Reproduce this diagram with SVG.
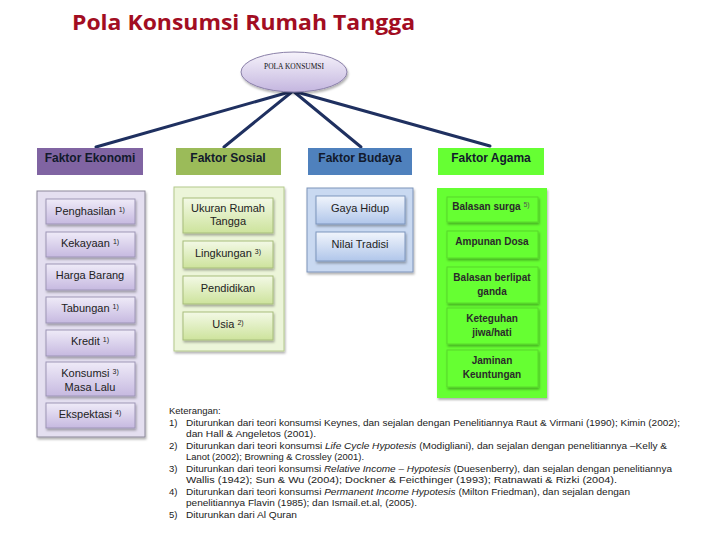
<svg xmlns="http://www.w3.org/2000/svg" width="720" height="540" viewBox="0 0 720 540">
<defs>
<linearGradient id="gEll" x1="0" y1="0" x2="0" y2="1"><stop offset="0" stop-color="#f6f3fb"/><stop offset="1" stop-color="#c4b6df"/></linearGradient>
<linearGradient id="gEko" x1="0" y1="0" x2="0" y2="1"><stop offset="0" stop-color="#efebf8"/><stop offset="1" stop-color="#c6b9e0"/></linearGradient>
<linearGradient id="gSos" x1="0" y1="0" x2="0" y2="1"><stop offset="0" stop-color="#f3f9e6"/><stop offset="1" stop-color="#cde39c"/></linearGradient>
<linearGradient id="gBud" x1="0" y1="0" x2="0" y2="1"><stop offset="0" stop-color="#f1f5fc"/><stop offset="1" stop-color="#b0c6ea"/></linearGradient>
<filter id="sh" x="-10%" y="-10%" width="130%" height="140%"><feDropShadow dx="1" dy="2" stdDeviation="1" flood-color="#000" flood-opacity="0.3"/></filter>
</defs>
<style>
.t{font-family:"Liberation Sans",Arial,sans-serif;fill:#1a1a1a;}
.fk{font-size:12px;font-weight:bold;text-anchor:middle;fill:#121a2c;}
.in{font-size:11px;text-anchor:middle;fill:#222;}
.ag{font-size:10px;font-weight:bold;text-anchor:middle;fill:#2a2a2a;}
.sup{font-size:7px;}
.ft{font-size:9.5px;fill:#222;}
.ekoC{fill:#e4dff0;stroke:#8b8799;stroke-width:1;}
.ekoB{fill:url(#gEko);stroke:#9d95b6;stroke-width:1;}
.sosC{fill:#ecf5d9;stroke:#b4c98c;stroke-width:1;}
.sosB{fill:url(#gSos);stroke:#a7bd7b;stroke-width:1;}
.budC{fill:#c9d9f1;stroke:#7c93ba;stroke-width:1;}
.budB{fill:url(#gBud);stroke:#7d95bd;stroke-width:1;}
.agC{fill:#66ff33;}
.agB{fill:#66ff33;stroke:#58d82c;stroke-width:1;}
.con{stroke:#1f3060;stroke-width:3;fill:none;stroke-linecap:round;}
</style>
<rect width="720" height="540" fill="#ffffff"/>
<text x="72" y="30" font-family="'Open Sans','Liberation Sans',sans-serif" font-size="22" font-weight="bold" fill="#a20d22" textLength="343" lengthAdjust="spacingAndGlyphs">Pola Konsumsi Rumah Tangga</text>

<g id="connectors">
<line class="con" x1="293" y1="91" x2="96" y2="147"/>
<line class="con" x1="293" y1="91" x2="224" y2="147"/>
<line class="con" x1="293" y1="91" x2="361" y2="147"/>
<line class="con" x1="293" y1="91" x2="490" y2="146"/>
</g>

<g id="pola-konsumsi">
<ellipse cx="294" cy="72" rx="53" ry="20" fill="url(#gEll)" stroke="#8a80a8" stroke-width="1" filter="url(#sh)"/>
<text x="294" y="69" font-family="'Liberation Serif',serif" font-size="7.5" text-anchor="middle" fill="#111" textLength="60" lengthAdjust="spacingAndGlyphs">POLA KONSUMSI</text>
</g>

<g id="faktor-ekonomi">
<rect x="37" y="148" width="106" height="27" fill="#8064a2"/>
<text class="t fk" x="90" y="162">Faktor Ekonomi</text>
</g>
<g id="faktor-sosial">
<rect x="176" y="148" width="105" height="27" fill="#9bbb59"/>
<text class="t fk" x="228" y="162">Faktor Sosial</text>
</g>
<g id="faktor-budaya">
<rect x="308" y="148" width="104" height="27" fill="#4f81bd"/>
<text class="t fk" x="360" y="162">Faktor Budaya</text>
</g>
<g id="faktor-agama">
<rect x="438" y="148" width="106" height="27" fill="#66ff33"/>
<text class="t fk" x="491" y="162">Faktor Agama</text>
</g>

<g id="ekonomi-items">
<rect class="ekoC" x="37" y="191" width="108" height="246" filter="url(#sh)"/>
<rect class="ekoB" x="46" y="199" width="89" height="25" filter="url(#sh)"/>
<text class="t in" x="90" y="215">Penghasilan <tspan class="sup" dy="-3">1)</tspan></text>
<rect class="ekoB" x="46" y="232" width="89" height="25" filter="url(#sh)"/>
<text class="t in" x="90" y="247">Kekayaan <tspan class="sup" dy="-3">1)</tspan></text>
<rect class="ekoB" x="46" y="264" width="89" height="26" filter="url(#sh)"/>
<text class="t in" x="90" y="279">Harga Barang</text>
<rect class="ekoB" x="46" y="297" width="89" height="26" filter="url(#sh)"/>
<text class="t in" x="90" y="312">Tabungan <tspan class="sup" dy="-3">1)</tspan></text>
<rect class="ekoB" x="46" y="330" width="89" height="26" filter="url(#sh)"/>
<text class="t in" x="90" y="345">Kredit <tspan class="sup" dy="-3">1)</tspan></text>
<rect class="ekoB" x="46" y="362" width="89" height="34" filter="url(#sh)"/>
<text class="t in" x="90" y="377">Konsumsi <tspan class="sup" dy="-3">3)</tspan></text>
<text class="t in" x="90" y="391">Masa Lalu</text>
<rect class="ekoB" x="46" y="403" width="89" height="25" filter="url(#sh)"/>
<text class="t in" x="90" y="418">Ekspektasi <tspan class="sup" dy="-3">4)</tspan></text>
</g>

<g id="sosial-items">
<rect class="sosC" x="174" y="187" width="110" height="164" filter="url(#sh)"/>
<rect class="sosB" x="183" y="198" width="90" height="35" filter="url(#sh)"/>
<text class="t in" x="228" y="212">Ukuran Rumah</text>
<text class="t in" x="228" y="225">Tangga</text>
<rect class="sosB" x="183" y="241" width="90" height="27" filter="url(#sh)"/>
<text class="t in" x="228" y="257">Lingkungan <tspan class="sup" dy="-3">3)</tspan></text>
<rect class="sosB" x="183" y="276" width="90" height="28" filter="url(#sh)"/>
<text class="t in" x="228" y="292">Pendidikan</text>
<rect class="sosB" x="183" y="312" width="90" height="28" filter="url(#sh)"/>
<text class="t in" x="228" y="328">Usia <tspan class="sup" dy="-3">2)</tspan></text>
</g>

<g id="budaya-items">
<rect class="budC" x="307" y="188" width="106" height="84" filter="url(#sh)"/>
<rect class="budB" x="316" y="196" width="89" height="28" filter="url(#sh)"/>
<text class="t in" x="360" y="212">Gaya Hidup</text>
<rect class="budB" x="316" y="232" width="89" height="29" filter="url(#sh)"/>
<text class="t in" x="360" y="248">Nilai Tradisi</text>
</g>

<g id="agama-items">
<rect class="agC" x="437" y="188" width="110" height="210" filter="url(#sh)"/>
<rect class="agB" x="447" y="197" width="91" height="25" filter="url(#sh)"/>
<text class="t ag" x="491" y="210">Balasan surga <tspan class="sup" font-weight="normal" fill="#555" dy="-3">5)</tspan></text>
<rect class="agB" x="447" y="231" width="91" height="27" filter="url(#sh)"/>
<text class="t ag" x="492" y="245">Ampunan Dosa</text>
<rect class="agB" x="447" y="267" width="91" height="36" filter="url(#sh)"/>
<text class="t ag" x="492" y="281">Balasan berlipat</text>
<text class="t ag" x="492" y="295">ganda</text>
<rect class="agB" x="447" y="308" width="91" height="36" filter="url(#sh)"/>
<text class="t ag" x="492" y="322">Keteguhan</text>
<text class="t ag" x="492" y="336">jiwa/hati</text>
<rect class="agB" x="447" y="350" width="91" height="37" filter="url(#sh)"/>
<text class="t ag" x="492" y="364">Jaminan</text>
<text class="t ag" x="492" y="378">Keuntungan</text>
</g>

<g id="keterangan">
<text class="t ft" x="169" y="414">Keterangan:</text>
<text class="t ft" x="169" y="426">1)</text>
<text class="t ft" x="186" y="426" textLength="494" lengthAdjust="spacingAndGlyphs">Diturunkan dari teori konsumsi Keynes, dan sejalan dengan Penelitiannya Raut &amp; Virmani (1990); Kimin (2002);</text>
<text class="t ft" x="186" y="437" textLength="130" lengthAdjust="spacingAndGlyphs">dan Hall &amp; Angeletos (2001).</text>
<text class="t ft" x="169" y="449">2)</text>
<text class="t ft" x="186" y="449" textLength="481" lengthAdjust="spacingAndGlyphs">Diturunkan dari teori konsumsi <tspan font-style="italic">Life Cycle Hypotesis</tspan>  (Modigliani), dan sejalan dengan penelitiannya –Kelly &amp;</text>
<text class="t ft" x="186" y="460" textLength="178" lengthAdjust="spacingAndGlyphs">Lanot (2002); Browning &amp; Crossley (2001).</text>
<text class="t ft" x="169" y="472">3)</text>
<text class="t ft" x="186" y="472" textLength="486" lengthAdjust="spacingAndGlyphs">Diturunkan dari teori konsumsi <tspan font-style="italic">Relative Income – Hypotesis</tspan> (Duesenberry), dan sejalan dengan penelitiannya</text>
<text class="t ft" x="186" y="483" textLength="431" lengthAdjust="spacingAndGlyphs">Wallis (1942); Sun &amp; Wu (2004); Dockner &amp; Feicthinger (1993); Ratnawati &amp; Rizki (2004).</text>
<text class="t ft" x="169" y="495">4)</text>
<text class="t ft" x="186" y="495" textLength="444" lengthAdjust="spacingAndGlyphs">Diturunkan dari teori konsumsi <tspan font-style="italic">Permanent Income Hypotesis</tspan> (Milton Friedman), dan sejalan dengan</text>
<text class="t ft" x="186" y="506" textLength="231" lengthAdjust="spacingAndGlyphs">penelitiannya Flavin (1985); dan Ismail.et.al, (2005).</text>
<text class="t ft" x="169" y="518">5)</text>
<text class="t ft" x="186" y="518" textLength="111" lengthAdjust="spacingAndGlyphs">Diturunkan dari Al Quran</text>
</g>
</svg>
